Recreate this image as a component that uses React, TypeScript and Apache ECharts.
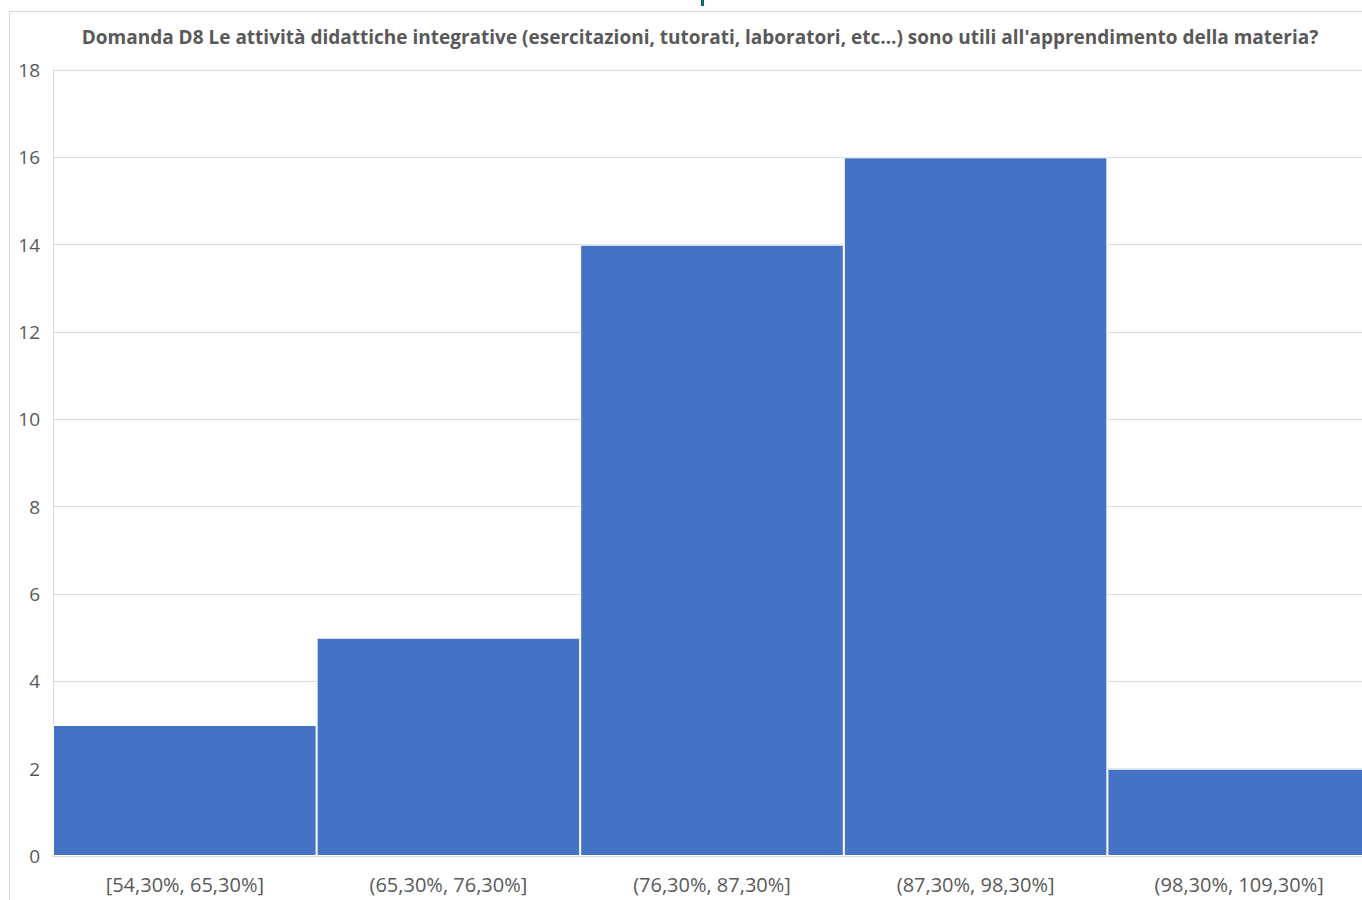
import { useEffect, useRef } from "react";
import * as echarts from "echarts";

const titleText =
  "Domanda D8 Le attività didattiche integrative (esercitazioni, tutorati, laboratori, etc...) sono utili all'apprendimento della materia?";

const categories = [
  "[54,30%, 65,30%]",
  "(65,30%, 76,30%]",
  "(76,30%, 87,30%]",
  "(87,30%, 98,30%]",
  "(98,30%, 109,30%]",
];

const counts = [3, 5, 14, 16, 2];

const yMin = 0;
const yMax = 18;
const yStep = 2;

function App() {
  const chartRef = useRef<HTMLDivElement>(null);

  useEffect(() => {
    const myChart = echarts.init(chartRef.current, null, { renderer: "svg" });

    const font = "'Open Sans', 'Noto Sans', sans-serif";

    myChart.setOption({
      animation: false,
      title: {
        text: titleText,
        left: "center",
        top: 22,
        textStyle: {
          fontFamily: font,
          fontSize: 19,
          fontWeight: "bold",
          color: "#595959",
        },
      },
      grid: {
        left: 53,
        top: 70,
        right: 29,
        bottom: 44,
      },
      graphic: [
        {
          type: "rect",
          shape: { x: 9.5, y: 11.5, width: 1500, height: 1000 },
          style: { fill: "none", stroke: "#d9d9d9", lineWidth: 1 },
          silent: true,
        },
        {
          type: "rect",
          shape: { x: 701, y: 0, width: 3, height: 6 },
          style: { fill: "#0b6b5e" },
          silent: true,
        },
      ],
      xAxis: {
        type: "category",
        data: categories,
        axisTick: { show: false },
        axisLine: { lineStyle: { color: "#d9d9d9" } },
        axisLabel: {
          fontFamily: font,
          fontSize: 20,
          color: "#595959",
          margin: 18,
        },
      },
      yAxis: {
        type: "value",
        min: yMin,
        max: yMax,
        interval: yStep,
        axisLine: { show: true, lineStyle: { color: "#d9d9d9" } },
        axisTick: { show: false },
        splitLine: { lineStyle: { color: "#d9d9d9" } },
        axisLabel: {
          fontFamily: font,
          fontSize: 19,
          color: "#595959",
          margin: 13,
        },
      },
      series: [
        {
          type: "bar",
          data: counts,
          barCategoryGap: 0,
          itemStyle: {
            color: "#4472c4",
            borderColor: "#ffffff",
            borderWidth: 1,
          },
        },
      ],
    });

    return () => {
      myChart.dispose();
    };
  }, []);

  return (
    <div
      style={{
        position: "absolute",
        left: 0,
        top: 0,
        width: 1362,
        height: 900,
        overflow: "hidden",
        background: "#ffffff",
      }}
    >
      <div ref={chartRef} style={{ width: 1400, height: 900 }}></div>
    </div>
  );
}

export default App;
